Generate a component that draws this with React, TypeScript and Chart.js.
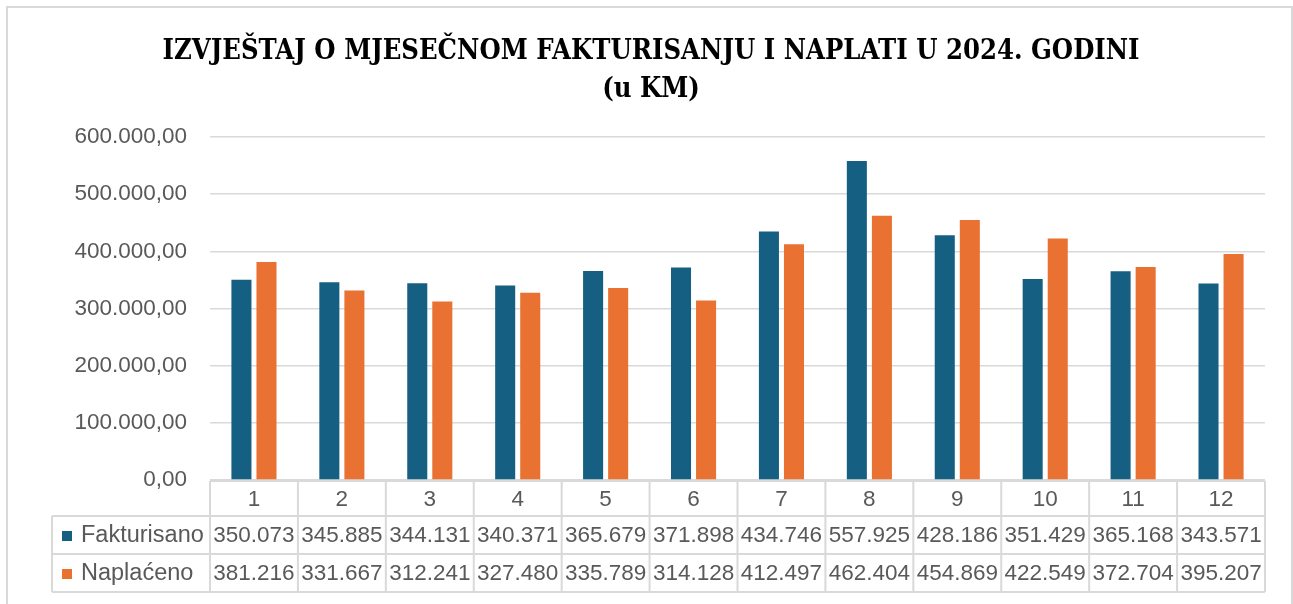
import { useEffect, useRef } from "react";
import { Chart, registerables } from "chart.js";

Chart.register(...registerables);

const months = ["1", "2", "3", "4", "5", "6", "7", "8", "9", "10", "11", "12"];
const fakturisano = [350073, 345885, 344131, 340371, 365679, 371898, 434746, 557925, 428186, 351429, 365168, 343571];
const naplaceno = [381216, 331667, 312241, 327480, 335789, 314128, 412497, 462404, 454869, 422549, 372704, 395207];
const seriesNames = ["Fakturisano", "Naplaćeno"];
const seriesColors = ["#156082", "#E97132"];
const titleLines = ["IZVJEŠTAJ O MJESEČNOM FAKTURISANJU I NAPLATI U 2024. GODINI", "(u KM)"];
const yMin = 0;
const yMax = 600000;
const yStep = 100000;

const TEXT_COLOR = "#595959";
const LINE_COLOR = "#D9D9D9";
const FONT_FAMILY = "'Liberation Sans', Arial, sans-serif";
const FONT_SIZE = 22.5;

function groupThousands(n: number): string {
  const s = Math.round(Math.abs(n)).toString();
  return (n < 0 ? "-" : "") + s.replace(/\B(?=(\d{3})+(?!\d))/g, ".");
}

function yFormat(v: number): string {
  return groupThousands(Math.floor(v)) + ",00";
}

const titlePlugin = {
  id: "scaledTitle",
  afterDraw(chart: any) {
    const ctx = chart.ctx;
    const cx = 651;
    const targetWidth = 977;
    ctx.save();
    ctx.fillStyle = "#000000";
    ctx.font = "bold 28px 'DejaVu Serif', 'Liberation Serif', serif";
    ctx.textAlign = "center";
    ctx.textBaseline = "alphabetic";
    const w = ctx.measureText(titleLines[0]).width;
    const sx = targetWidth / w;
    const baselines = [58.5, 96.5];
    titleLines.forEach((line, i) => {
      ctx.save();
      ctx.translate(cx, baselines[i]);
      ctx.scale(sx, 1);
      ctx.fillText(line, 0, 0);
      ctx.restore();
    });
    ctx.restore();
  },
};

const tablePlugin = {
  id: "dataTable",
  afterDraw(chart: any) {
    const ctx = chart.ctx;
    const xs = chart.scales.x;
    const area = chart.chartArea;
    const n = months.length;
    const cw = (area.right - area.left) / n;
    const top = area.bottom + 1;
    const r1 = top + 35;
    const r2 = top + 73;
    const r3 = top + 111;
    const leftX = 52;

    ctx.save();
    ctx.strokeStyle = LINE_COLOR;
    ctx.lineWidth = 2;
    ctx.beginPath();
    ctx.moveTo(area.left, top);
    ctx.lineTo(area.right, top);
    [r1, r2, r3].forEach((y) => {
      ctx.moveTo(leftX, y);
      ctx.lineTo(area.right, y);
    });
    for (let i = 0; i <= n; i++) {
      const x = xs.getPixelForValue(Math.min(i, n - 1)) + (i === n ? cw / 2 : -cw / 2);
      ctx.moveTo(x, top);
      ctx.lineTo(x, r3);
    }
    ctx.moveTo(leftX, r1);
    ctx.lineTo(leftX, r3);
    ctx.stroke();

    ctx.fillStyle = TEXT_COLOR;
    ctx.font = `${FONT_SIZE}px ${FONT_FAMILY}`;
    ctx.textAlign = "center";
    ctx.textBaseline = "middle";
    const rowsMid = [(top + r1) / 2 + 1, (r1 + r2) / 2 + 1, (r2 + r3) / 2 + 1];
    months.forEach((m, i) => {
      const cx = xs.getPixelForValue(i);
      ctx.fillText(m, cx, rowsMid[0]);
      ctx.fillText(groupThousands(fakturisano[i]), cx, rowsMid[1]);
      ctx.fillText(groupThousands(naplaceno[i]), cx, rowsMid[2]);
    });

    ctx.textAlign = "left";
    ctx.font = `23.5px ${FONT_FAMILY}`;
    seriesNames.forEach((name, k) => {
      const my = rowsMid[k + 1];
      ctx.fillStyle = seriesColors[k];
      ctx.fillRect(62, my - 5, 10, 10);
      ctx.fillStyle = TEXT_COLOR;
      ctx.fillText(name, 81, my);
    });
    ctx.restore();
  },
};

export default function App() {
  const canvasRef = useRef<HTMLCanvasElement | null>(null);

  useEffect(() => {
    if (!canvasRef.current) return;
    const chart = new Chart(canvasRef.current, {
      type: "bar",
      data: {
        labels: months,
        datasets: [
          {
            label: seriesNames[0],
            data: fakturisano,
            backgroundColor: seriesColors[0],
            categoryPercentage: 0.57,
            barPercentage: 0.8,
          },
          {
            label: seriesNames[1],
            data: naplaceno,
            backgroundColor: seriesColors[1],
            categoryPercentage: 0.57,
            barPercentage: 0.8,
          },
        ],
      },
      options: {
        responsive: false,
        animation: false,
        devicePixelRatio: 1,
        layout: { padding: { top: 137, bottom: 124, left: 36, right: 28 } },
        plugins: {
          legend: { display: false },
          title: { display: false },
          tooltip: { enabled: false },
        },
        scales: {
          x: {
            display: false,
            grid: { display: false },
          },
          y: {
            min: yMin,
            max: yMax,
            border: { display: false },
            grid: { color: LINE_COLOR, lineWidth: 1.5, drawTicks: false },
            afterFit(scale: any) {
              scale.width = 174;
            },
            ticks: {
              stepSize: yStep,
              color: TEXT_COLOR,
              padding: 23,
              font: { family: FONT_FAMILY, size: FONT_SIZE },
              callback: (v: any) => yFormat(Number(v)),
            },
          },
        },
      },
      plugins: [titlePlugin, tablePlugin],
    });
    return () => chart.destroy();
  }, []);

  return (
    <div style={{ position: "absolute", left: 0, top: 0, width: 1293, height: 604, overflow: "hidden", background: "#fff" }}>
      <canvas ref={canvasRef} width={1293} height={604} style={{ display: "block" }} />
      <div
        style={{
          position: "absolute",
          left: 6,
          top: 6,
          width: 1287,
          height: 700,
          border: `2px solid ${LINE_COLOR}`,
          boxSizing: "border-box",
          pointerEvents: "none",
        }}
      />
    </div>
  );
}
